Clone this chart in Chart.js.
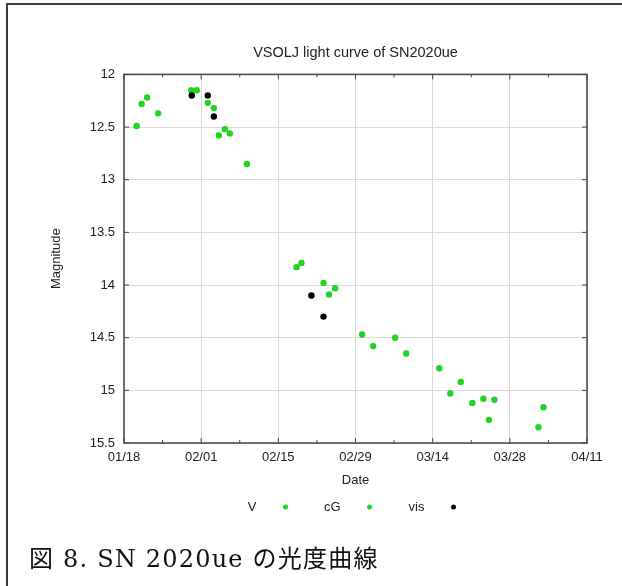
<!DOCTYPE html>
<html>
<head>
<meta charset="utf-8">
<script src="https://cdn.jsdelivr.net/npm/chart.js@4.4.1/dist/chart.umd.min.js"></script>
<style>
  html, body { margin: 0; padding: 0; background: #fff; overflow: hidden; }
  #wrap { position: relative; width: 622px; height: 586px; }
  #lc { position: absolute; left: 0; top: 0; }
  #frame { position: absolute; left: 6px; top: 3px; width: 640px; height: 600px;
           border-top: 2px solid #3c3c3c; border-left: 2px solid #3c3c3c; }
  #caption { position: absolute; left: 29px; top: 539px; white-space: nowrap; color: #111;
             letter-spacing: 1.2px;
             font: 24px "DejaVu Serif", "Noto Sans CJK JP", serif; }
</style>
</head>
<body>
<div id="wrap">
  <canvas id="lc" width="622" height="586"></canvas>
  <div id="frame"></div>
  <div id="caption">図 8. SN 2020ue の光度曲線</div>
</div>
<script>
// x = days since 2020-01-18
const dateLabels = ['01/18', '02/01', '02/15', '02/29', '03/14', '03/28', '04/11'];

// V and cG are the same green in the picture, all green points put in cG
const vDays = [];
const vMags = [];

const cgDays = [2.3, 3.2, 4.2, 6.2, 12.2, 13.2, 15.2, 16.3, 17.2, 18.3, 19.2, 22.3,
                31.3, 32.2, 36.2, 37.2, 38.3, 43.2, 45.2, 49.2, 51.2, 57.2, 59.2, 61.1,
                63.2, 65.2, 66.2, 67.2, 75.2, 76.1];
const cgMags = [12.49, 12.28, 12.22, 12.37, 12.15, 12.15, 12.27, 12.32, 12.58, 12.52, 12.56, 12.85,
                13.83, 13.79, 13.98, 14.09, 14.03, 14.47, 14.58, 14.50, 14.65, 14.79, 15.03, 14.92,
                15.12, 15.08, 15.28, 15.09, 15.35, 15.16];

const visDays = [12.3, 15.2, 16.3, 34.0, 36.2];
const visMags = [12.20, 12.20, 12.40, 14.10, 14.30];

const toPoints = (d, m) => d.map((x, i) => ({ x: x, y: m[i] }));
const green = '#22d422';
const txt = '#222';
const sans = 'Liberation Sans';

// gnuplot look: border, inward ticks on all sides, "label  dot" key
const gnuFrame = {
  id: 'gnuFrame',
  afterDraw(chart) {
    const { ctx, chartArea: a, scales: { x, y } } = chart;
    ctx.save();
    ctx.strokeStyle = '#444';
    ctx.lineWidth = 1;
    ctx.beginPath();
    x.ticks.forEach(t => {
      const px = x.getPixelForValue(t.value);
      const len = t.value % 14 === 0 ? 5 : 3;
      ctx.moveTo(px, a.bottom); ctx.lineTo(px, a.bottom - len);
      ctx.moveTo(px, a.top); ctx.lineTo(px, a.top + len);
    });
    y.ticks.forEach(t => {
      const py = y.getPixelForValue(t.value);
      ctx.moveTo(a.left, py); ctx.lineTo(a.left + 5, py);
      ctx.moveTo(a.right, py); ctx.lineTo(a.right - 5, py);
    });
    ctx.stroke();
    ctx.lineWidth = 1.5;
    ctx.strokeRect(a.left, a.top, a.right - a.left, a.bottom - a.top);

    // key under the x axis
    const colW = 84;
    const cx = (a.left + a.right) / 2;
    const ly = x.bottom + 19;
    ctx.font = '13px "' + sans + '"';
    ctx.textAlign = 'right';
    ctx.textBaseline = 'middle';
    chart.data.datasets.forEach((ds, i) => {
      const dotX = cx - 1.5 * colW + (i + 1) * colW - 28;
      ctx.fillStyle = txt;
      ctx.fillText(ds.label, dotX - 29, ly);
      ctx.fillStyle = ds.backgroundColor;
      ctx.beginPath();
      ctx.arc(dotX, ly, 2.5, 0, Math.PI * 2);
      ctx.fill();
    });
    ctx.restore();
  }
};

new Chart(document.getElementById('lc'), {
  type: 'scatter',
  data: {
    datasets: [
      { label: 'V', data: toPoints(vDays, vMags), backgroundColor: green, order: 2 },
      { label: 'cG', data: toPoints(cgDays, cgMags), backgroundColor: green, order: 1 },
      { label: 'vis', data: toPoints(visDays, visMags), backgroundColor: '#000', order: 0 }
    ]
  },
  options: {
    responsive: false,
    animation: false,
    layout: { padding: { left: 0, right: 35, top: 0, bottom: 98 } },
    elements: { point: { radius: 3.2, hoverRadius: 3.2, borderWidth: 0 } },
    plugins: {
      legend: { display: false },
      tooltip: { enabled: false },
      title: {
        display: true,
        text: 'VSOLJ light curve of SN2020ue',
        fullSize: false,
        color: txt,
        font: { family: sans, size: 14.5, weight: 'normal' },
        padding: { top: 44, bottom: 13 }
      }
    },
    scales: {
      x: {
        type: 'linear',
        min: 0,
        max: 84,
        afterFit: s => { s.height = 45; },
        ticks: {
          stepSize: 7,
          autoSkip: false,
          maxRotation: 0,
          padding: 7,
          color: txt,
          font: { family: sans, size: 13 },
          callback: v => v % 14 === 0 ? dateLabels[v / 14] : ''
        },
        grid: {
          color: c => (c.tick && c.tick.value % 14 === 0) ? '#dadada' : 'rgba(0,0,0,0)',
          drawTicks: false
        },
        border: { display: false },
        title: {
          display: true, text: 'Date', color: txt,
          font: { family: sans, size: 13 },
          padding: { top: 0, bottom: 0 }
        }
      },
      y: {
        reverse: true,
        min: 12,
        max: 15.5,
        afterFit: s => { s.width = 124; },
        ticks: {
          stepSize: 0.5,
          padding: 9,
          color: txt,
          font: { family: sans, size: 13 },
          callback: v => String(v)
        },
        grid: { color: '#dadada', drawTicks: false },
        border: { display: false },
        title: {
          display: true, text: 'Magnitude', color: txt,
          font: { family: sans, size: 13 },
          padding: { top: 49, bottom: 0 }
        }
      }
    }
  },
  plugins: [gnuFrame]
});
</script>
</body>
</html>
